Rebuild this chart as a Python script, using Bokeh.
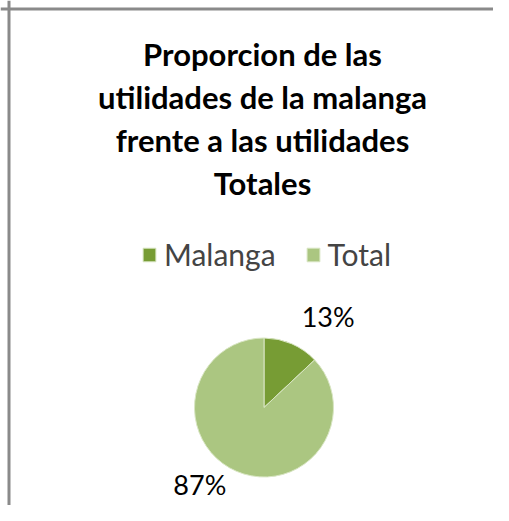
import math
from bokeh.plotting import figure
from bokeh.models import Range1d, Label, Span, ColumnDataSource, Legend, LegendItem
from bokeh.embed import file_html
from bokeh.resources import INLINE

# ---- data ----
categories = ["Malanga", "Total"]
values = [13, 87]
colors = ["#779C34", "#ABC681"]
title_lines = ["Proporcion de las", "utilidades de la malanga",
               "frente a las utilidades", "Totales"]

W, H = 493, 505
p = figure(width=W, height=H, output_backend="svg", toolbar_location=None,
           x_range=Range1d(0, W), y_range=Range1d(0, H), min_border=0)
p.axis.visible = False
p.grid.visible = False
p.outline_line_color = None
p.background_fill_color = "white"
p.border_fill_color = "white"

# frame (left and top border only; right/bottom lie outside the picture)
p.add_layout(Span(location=8.5, dimension="height", line_color="#8a8a8a", line_width=3))
p.add_layout(Span(location=H - 8.5, dimension="width", line_color="#8a8a8a", line_width=3))

# title (coordinates: x = screen x, y = H - screen y)
title_cx = 262
baselines = [H - 53, H - 96, H - 139, H - 182]
for line, yb in zip(title_lines, baselines):
    p.add_layout(Label(x=title_cx, y=yb, text=line, text_font="Lato",
                       text_font_style="bold", text_font_size="31px",
                       text_align="center", text_baseline="alphabetic",
                       text_color="#000000"))

# pie
cx, cy, r = 263.5, H - 407, 69.5
total = sum(values)
starts, ends, mids = [], [], []
acc = 0.0
for v in values:
    a0 = math.pi / 2 - 2 * math.pi * acc / total
    acc += v
    a1 = math.pi / 2 - 2 * math.pi * acc / total
    starts.append(a0)
    ends.append(a1)
    mids.append((a0 + a1) / 2)

src = ColumnDataSource(dict(cat=categories, val=values, start=starts, end=ends,
                            color=colors))
wr = p.wedge(x=cx, y=cy, radius=r, start_angle="start", end_angle="end",
             direction="clock", fill_color="color", line_color="#d9e6c4",
             line_width=1, source=src)

# percent labels
for v, m in zip(values, mids):
    ang = m - math.radians(14)
    lx = cx + 1.52 * r * math.cos(ang)
    ly = cy + 1.52 * r * math.sin(ang) + 7
    p.add_layout(Label(x=lx, y=ly, text=f"{round(100 * v / total)}%",
                       text_font="Lato", text_font_size="27px",
                       text_align="center", text_baseline="middle",
                       text_color="#000000"))

# legend
items = [LegendItem(label=c, renderers=[wr], index=i) for i, c in enumerate(categories)]
legend = Legend(items=items, orientation="horizontal", location=(141, H - 272),
                glyph_width=16, glyph_height=17, label_standoff=7, spacing=29,
                padding=0, margin=0, label_text_font="Lato",
                label_text_font_size="30px", label_height=24,
                border_line_color=None, background_fill_alpha=0)
p.add_layout(legend)

open("out.html", "w").write(file_html(p, INLINE))
